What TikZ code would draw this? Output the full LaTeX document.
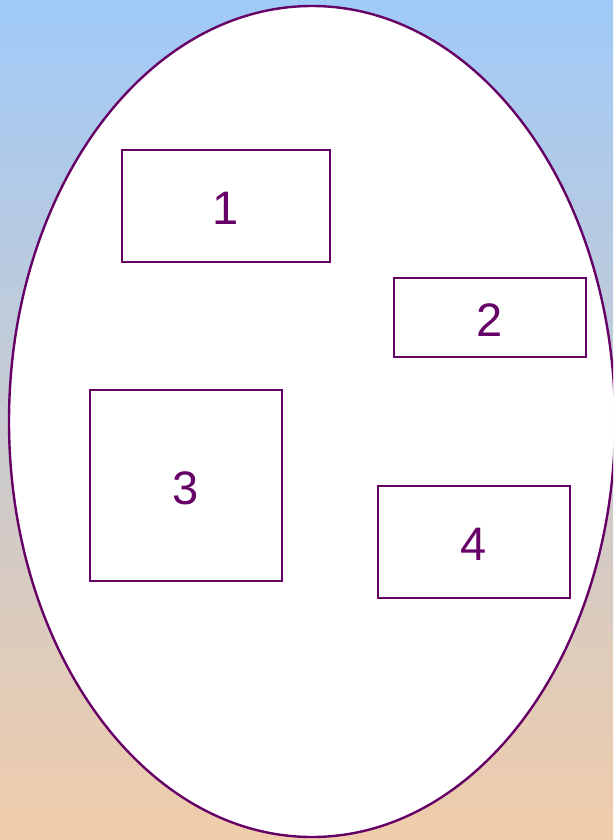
\documentclass[tikz,border=0pt]{standalone}
\usetikzlibrary{shapes.geometric}
\usepackage{fontspec}
\setmainfont{Liberation Sans}
\definecolor{bgtop}{HTML}{A0CAF8}
\definecolor{bgbot}{HTML}{F0CCAA}
\definecolor{plum}{HTML}{660066}
\begin{document}
\begin{tikzpicture}[x=1pt,y=-1pt,
  boxst/.style={draw=plum,line width=2.2pt,fill=white,inner sep=0pt,font=\fontsize{47}{50}\selectfont,text=plum}]
\useasboundingbox (0,0) rectangle (613,840);
\shade[top color=bgtop,bottom color=bgbot] (0,0) rectangle (613,840);
\begin{scope}
\clip (0,0) rectangle (613,840);
\node[draw=plum,line width=2.4pt,fill=white,ellipse,minimum width=606pt,minimum height=831pt,inner sep=0pt] (egg) at (312,421.5) {};
\end{scope}
\node[boxst,minimum width=208pt,minimum height=112pt] (b1) at (226,206) {};
\node[text=plum,font=\fontsize{47}{50}\selectfont] (t1) at (226,208.5) {1};
\node[boxst,minimum width=192pt,minimum height=79pt] (b2) at (490,317.5) {};
\node[text=plum,font=\fontsize{47}{50}\selectfont] (t2) at (490,320) {2};
\node[boxst,minimum width=192pt,minimum height=191pt] (b3) at (186,485.5) {};
\node[text=plum,font=\fontsize{47}{50}\selectfont] (t3) at (186,488) {3};
\node[boxst,minimum width=192pt,minimum height=112pt] (b4) at (474,542) {};
\node[text=plum,font=\fontsize{47}{50}\selectfont] (t4) at (474,544.5) {4};
\end{tikzpicture}
\end{document}
